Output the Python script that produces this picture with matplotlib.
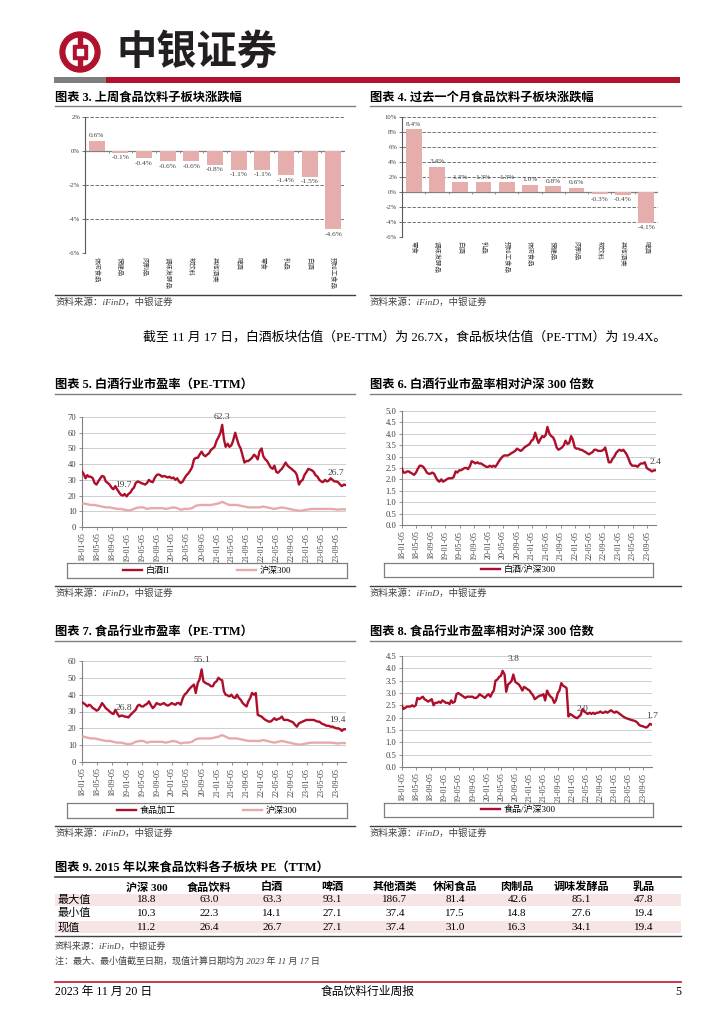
import numpy as np
import pandas as pd
import matplotlib
matplotlib.use('Agg')
import matplotlib.pyplot as plt
from matplotlib.patches import Rectangle, Annulus
from matplotlib.lines import Line2D

plt.rcParams['font.family'] = ['Liberation Serif', 'Noto Sans CJK SC']
plt.rcParams['axes.unicode_minus'] = False

# ---- 图表3 / 图表4 子板块涨跌幅 ----
week_cats = ['休闲食品', '保健品', '肉制品', '调味发酵品', '软饮料', '其他酒类',
             '啤酒', '零食', '乳品', '白酒', '预加工食品']
week_chg = [0.6, -0.1, -0.4, -0.6, -0.6, -0.8, -1.1, -1.1, -1.4, -1.5, -4.6]
month_cats = ['零食', '调味发酵品', '白酒', '乳品', '预加工食品', '休闲食品',
              '保健品', '肉制品', '软饮料', '其他酒类', '啤酒']
month_chg = [8.4, 3.4, 1.3, 1.3, 1.3, 1.0, 0.8, 0.6, -0.3, -0.4, -4.1]

# ---- 估值序列（半月取值，2018-01 至 2023-11）----
dates = pd.date_range('2018-01-01', periods=142, freq='SMS')
baijiu_pe = [35.5, 34, 31, 33, 32, 32, 31, 28, 27, 29, 31, 32.5, 32, 29, 28, 27, 25, 24, 26, 24,
             22, 20.5, 20, 21, 19.5, 21, 22, 24, 25, 28, 29, 28.5, 28, 27.5, 27, 28, 30, 29, 28.5, 31,
             33, 33.5, 33, 32, 32.5, 32, 31.5, 32, 31, 31.5, 30, 31, 29, 28, 29, 31, 33, 34, 36, 38,
             43, 44, 44, 46, 48, 46, 45, 46, 47, 49, 50, 51, 55, 57, 60, 65, 56, 51, 53, 51,
             52, 55, 60, 56, 52, 50, 45, 41, 42, 42, 43, 44, 46, 45, 43, 48, 50, 45, 43, 42,
             40, 38, 37, 39, 35, 34.5, 36, 37, 39, 41, 39, 38, 37, 36, 35, 33, 27, 29, 30, 33,
             35, 37, 36.5, 36, 35, 33, 32, 30, 29, 28.5, 30, 29, 29.5, 31, 30, 29, 29, 28.5, 27, 26, 27, 26.7]
baijiu_rel = [2.5, 2.3, 2.3, 2.35, 2.35, 2.3, 2.25, 2.2, 2.3, 2.45, 2.6, 2.6, 2.55, 2.45, 2.3, 2.25, 2.25, 2.3, 2.25, 2.1,
              1.95, 1.9, 2.0, 1.9, 1.95, 2.0, 2.05, 2.05, 2.05, 2.1, 2.35, 2.3, 2.4, 2.4, 2.45, 2.5, 2.5, 2.45, 2.6, 2.8,
              2.75, 2.7, 2.75, 2.7, 2.7, 2.65, 2.6, 2.55, 2.55, 2.6, 2.55, 2.6, 2.55, 2.65, 2.8, 2.9, 3.0, 3.05, 3.05, 3.05,
              3.1, 3.15, 3.2, 3.25, 3.35, 3.3, 3.25, 3.3, 3.4, 3.45, 3.5, 3.55, 3.7, 3.75, 4.05, 3.8, 3.6, 3.75, 3.9, 3.85,
              3.95, 4.3, 4.0, 3.9, 3.85, 3.7, 3.4, 3.3, 3.35, 3.4, 3.5, 3.7, 3.55, 3.6, 3.9, 3.75, 3.4, 3.35, 3.35, 3.3,
              3.3, 3.25, 3.2, 3.15, 3.1, 3.15, 3.2, 3.3, 3.3, 3.25, 3.25, 3.25, 3.3, 3.4, 3.05, 2.75, 2.75, 2.9, 3.0, 3.15,
              3.25, 3.3, 3.25, 3.3, 3.2, 3.1, 2.9, 2.7, 2.6, 2.6, 2.6, 2.55, 2.65, 2.7, 2.7, 2.75, 2.5, 2.45, 2.4, 2.35, 2.4, 2.4]
food_pe = [35.5, 35, 34, 33, 34, 33.5, 32, 31.5, 30.5, 31, 33, 35, 33.5, 32, 31, 30, 29, 28.5, 31, 29,
           27, 27.5, 27.5, 27, 26.8, 26.5, 28, 29, 30, 31, 33.5, 34, 33, 33, 34, 34.5, 36, 34, 32, 33,
           35, 34.5, 34, 34.5, 35, 34, 33.5, 34, 35, 34.5, 34, 35, 35, 34, 38, 40, 41, 42.5, 44, 45,
           46, 41, 47, 49, 55, 48, 47, 46.5, 46, 45, 45, 47, 48, 50, 49, 48.5, 42, 40, 39.5, 39,
           40, 38.5, 38, 40, 38, 37, 35, 34, 33, 36, 38, 41, 40, 41, 28, 27.5, 27, 26, 25, 24.5,
           24, 24, 25, 26, 25, 25.5, 26, 27, 25, 25, 25, 24.5, 24, 23.5, 22, 21, 23, 23.5, 24, 24.5,
           25, 25, 25, 25, 25, 24.5, 24, 24, 23, 22.5, 22, 21.5, 21.5, 21, 21, 20.5, 20, 20, 19.5, 18.5, 19.5, 19.4]
food_rel = [2.5, 2.35, 2.4, 2.45, 2.45, 2.45, 2.5, 2.45, 2.5, 2.8, 2.75, 2.8, 2.85, 2.75, 2.7, 2.65, 2.7, 2.75, 2.5, 2.6,
            2.6, 2.65, 2.6, 2.7, 2.65, 2.6, 2.6, 2.55, 2.7, 2.6, 2.65, 2.95, 3.0, 2.95, 2.9, 2.85, 2.8, 2.85, 2.85, 2.85,
            2.85, 2.8, 2.8, 2.85, 2.95, 2.9, 2.85, 2.8, 2.9, 2.95, 2.85, 3.0, 3.1, 3.5, 3.55, 3.65, 3.7, 3.9, 3.75, 3.05,
            3.35, 3.4, 3.5, 3.75, 3.45, 3.4, 3.35, 3.25, 3.1, 3.25, 3.2, 3.15, 3.1, 3.0, 2.9, 2.75, 2.8, 2.85, 2.9, 2.9,
            2.95, 2.7, 3.1, 2.95, 2.85, 2.8, 2.6, 2.7, 3.0, 3.1, 3.4, 3.3, 3.25, 3.2, 2.05, 2.15, 2.1, 2.05, 2.0, 1.98,
            2.05, 2.1, 2.35, 2.25, 2.2, 2.15, 2.2, 2.15, 2.2, 2.15, 2.2, 2.2, 2.25, 2.2, 2.2, 2.25, 2.2, 2.25, 2.3, 2.25,
            2.2, 2.25, 2.2, 2.15, 2.1, 2.05, 2.0, 1.97, 1.95, 1.92, 1.9, 1.88, 1.85, 1.8, 1.7, 1.67, 1.65, 1.62, 1.6, 1.65, 1.75, 1.72]
# 沪深300 市盈率（月度）
hs300_dates = dates[1::2]
hs300_pe = [15, 14.5, 14, 14, 13.5, 13, 12.5, 12.5, 12, 11.5,
            11.5, 11, 10.5, 11, 12, 12.5, 12.5, 11.5, 12, 12,
            12, 12, 11.5, 12, 12.5, 12, 11, 11.5, 11.5, 12,
            13.5, 14, 14, 14, 14, 14.5, 15, 16, 15, 14,
            14, 14, 13.5, 13, 12.5, 12.5, 12.5, 12.5, 13, 12.5,
            12, 11.5, 12, 12.5, 12, 11.5, 11, 10.5, 10.3, 10.8,
            11.2, 11.5, 11.5, 11.5, 11.5, 11.5, 11.5, 11.3, 11, 11.3,
            11.2]

# ---- 图表9 表格 ----
table_cols = ['沪深 300', '食品饮料', '白酒', '啤酒', '其他酒类', '休闲食品', '肉制品', '调味发酵品', '乳品']
table_rows = ['最大值', '最小值', '现值']
pe_max = [18.8, 63.0, 63.3, 93.1, 186.7, 81.4, 42.6, 85.1, 47.8]
pe_min = [10.3, 22.3, 14.1, 27.1, 37.4, 17.5, 14.8, 27.6, 19.4]
pe_now = [11.2, 26.4, 26.7, 27.1, 37.4, 31.0, 16.3, 34.1, 19.4]

RED = '#b0122e'
DARK = '#ad0f2a'
PINK = '#e9a9a9'
BAR = '#e6adad'
GREY = '#404040'

W, H = 724, 1024
fig = plt.figure(figsize=(W / 100, H / 100), dpi=100)


def box(x0, y0, x1, y1):
    return [x0 / W, 1 - y1 / H, (x1 - x0) / W, (y1 - y0) / H]


def txt(x, y, s, **kw):
    kw.setdefault('va', 'center')
    fig.text(x / W, 1 - y / H, s, **kw)


def hline(x0, x1, y, color='#7f7f7f', lw=1.0):
    fig.add_artist(Line2D([x0 / W, x1 / W], [1 - y / H] * 2, color=color, lw=lw))


def band(x0, y0, x1, y1, color):
    fig.add_artist(Rectangle((x0 / W, 1 - y1 / H), (x1 - x0) / W, (y1 - y0) / H,
                             facecolor=color, lw=0))


# 页眉
lg = fig.add_axes(box(58, 31, 102, 73))
lg.set_xlim(-1.05, 1.05)
lg.set_ylim(-1.05, 1.05)
lg.set_aspect('equal')
lg.axis('off')
lg.add_patch(Annulus((0, 0), 1.0, 0.24, color=RED))
lg.add_patch(Rectangle((-0.09, 0.3), 0.18, 0.5, color=RED))
lg.add_patch(Rectangle((-0.09, -0.8), 0.18, 0.5, color=RED))
lg.add_patch(Rectangle((-0.34, -0.34), 0.68, 0.68, color=RED))
lg.add_patch(Rectangle((-0.16, -0.16), 0.32, 0.32, color='white'))
txt(116, 52, '中银证券', fontsize=29, family='Noto Sans CJK SC', weight='bold', color='#231f20')
band(54, 77, 106, 83, '#7f7f7f')
band(106, 77, 680, 83, RED)


def title(x, y, s, x1):
    txt(x, y, s, fontsize=8.8, weight='bold', color='black')
    hline(x, x1, y + 9, '#7f7f7f', 1.0)


def source(x, y, x1):
    hline(x, x1, y - 7, '#404040', 1.0)
    txt(x, y, '资料来源：iFinD，中银证券', fontsize=6.8, style='italic', color=GREY)


def bar_panel(b, cats, vals, lo, hi):
    ax = fig.add_axes(box(*b))
    pos = np.arange(len(cats))
    ax.bar(pos, vals, width=0.68, color=BAR, zorder=3)
    ax.set_xlim(-0.5, len(cats) - 0.5)
    ax.set_ylim(lo, hi)
    ticks = np.arange(lo, hi + 1, 2)
    ax.set_yticks(ticks)
    ax.set_yticklabels([f'{t:d}%' for t in ticks], fontsize=4.8, color=GREY)
    for t in ticks:
        if t != 0:
            ax.axhline(t, color='#595959', lw=0.6, ls=(0, (4, 2)), zorder=1)
    ax.axhline(0, color='#808080', lw=0.9, zorder=2)
    ax.vlines(np.arange(len(cats) + 1) - 0.5, -(hi - lo) * 0.015, 0, color='#808080', lw=0.6)
    for s in ['top', 'right', 'bottom']:
        ax.spines[s].set_visible(False)
    ax.spines['left'].set_color('#595959')
    ax.spines['left'].set_linewidth(0.8)
    ax.tick_params(axis='y', length=2, width=0.6, pad=1.5, color='#595959')
    ax.set_xticks(pos)
    ax.set_xticklabels(cats, rotation=270, fontsize=4.6, color=GREY)
    ax.tick_params(axis='x', length=0, pad=3)
    off = (hi - lo) * 0.02
    for p, v in zip(pos, vals):
        ax.text(p, v + off if v >= 0 else v - off, f'{v:.1f}%', ha='center',
                va='bottom' if v >= 0 else 'top', fontsize=5.3, color=GREY)


tick_dates = [pd.Timestamp(y, m, 5) for y in range(2018, 2024) for m in (1, 5, 9)]


def line_panel(b, lines, top, step, fmt):
    ax = fig.add_axes(box(*b))
    handles = []
    for d, v, c in lines:
        h, = ax.plot(d, v, color=c, lw=1.7, solid_joinstyle='round', zorder=3)
        handles.append(h)
    ax.set_xlim(pd.Timestamp('2018-01-03'), pd.Timestamp('2023-11-18'))
    ax.set_ylim(0, top)
    yt = np.arange(0, top + step / 2, step)
    ax.set_yticks(yt)
    ax.set_yticklabels([fmt.format(t) for t in yt], fontsize=6.2, color=GREY)
    ax.grid(axis='y', color='#c8c8c8', lw=0.6)
    ax.set_axisbelow(True)
    ax.set_xticks(tick_dates)
    ax.set_xticklabels([t.strftime('%y-%m-%d') for t in tick_dates], rotation=90, fontsize=5.8, color=GREY)
    for s in ['top', 'right']:
        ax.spines[s].set_visible(False)
    for s in ['left', 'bottom']:
        ax.spines[s].set_color('#808080')
        ax.spines[s].set_linewidth(0.8)
    ax.tick_params(length=2.5, width=0.6, color='#808080', pad=1.5)
    return ax, handles


def legend_panel(b, handles, labels, gap):
    la = fig.add_axes(box(*b))
    la.set_xticks([])
    la.set_yticks([])
    for s in la.spines.values():
        s.set_color('#7f7f7f')
        s.set_linewidth(0.9)
    la.legend(handles, labels, loc='center', ncol=len(labels), frameon=False,
              fontsize=6.5, handlelength=2.1, columnspacing=gap, handletextpad=0.4)


def note(ax, i, d, v, s, dx=0, dy=3):
    ax.annotate(s, (d[i], v[i]), xytext=(dx, dy), textcoords='offset points',
                ha='center', va='bottom', fontsize=6.8, color=GREY)


# 图表3 / 图表4
title(55, 97, '图表 3. 上周食品饮料子板块涨跌幅', 355)
title(370, 97, '图表 4. 过去一个月食品饮料子板块涨跌幅', 681)
bar_panel((85, 117, 345, 253), week_cats, week_chg, -6, 2)
bar_panel((402, 117, 658, 237), month_cats, month_chg, -6, 10)
source(55, 302, 355)
source(370, 302, 681)

txt(143, 337, '截至 11 月 17 日，白酒板块估值（PE-TTM）为 26.7X，食品板块估值（PE-TTM）为 19.4X。',
    fontsize=9.3, color='black')

# 图表5
title(55, 385, '图表 5. 白酒行业市盈率（PE-TTM）', 355)
ax5, h5 = line_panel((82, 417, 346, 527), [(dates, baijiu_pe, DARK), (hs300_dates, hs300_pe, PINK)],
                     70, 10, '{:.0f}')
i = int(np.argmax(baijiu_pe))
note(ax5, i, dates, baijiu_pe, '62.3')
i = int(np.argmin(baijiu_pe[:40]))
note(ax5, i, dates, baijiu_pe, '19.7', dx=-2, dy=5)
note(ax5, len(dates) - 1, dates, baijiu_pe, '26.7', dx=-7, dy=6)
legend_panel((67, 563, 347, 578), h5, ['白酒II', '沪深300'], 7.5)
source(55, 593, 355)

# 图表6
title(370, 385, '图表 6. 白酒行业市盈率相对沪深 300 倍数', 681)
ax6, h6 = line_panel((402, 411, 656, 525), [(dates, baijiu_rel, DARK)], 5, 0.5, '{:.1f}')
note(ax6, len(dates) - 1, dates, baijiu_rel, '2.4', dx=0, dy=3)
legend_panel((384, 563, 653, 577), h6, ['白酒/沪深300'], 2)
source(370, 593, 681)

# 图表7
title(55, 632, '图表 7. 食品行业市盈率（PE-TTM）', 355)
ax7, h7 = line_panel((82, 661, 346, 762), [(dates, food_pe, DARK), (hs300_dates, hs300_pe, PINK)],
                     60, 10, '{:.0f}')
i = int(np.argmax(food_pe))
note(ax7, i, dates, food_pe, '55.1', dy=4)
i = int(np.argmin(food_pe[:40]))
note(ax7, i, dates, food_pe, '26.8', dx=-3, dy=4)
note(ax7, len(dates) - 1, dates, food_pe, '19.4', dx=-6, dy=4)
legend_panel((67, 803, 347, 818), h7, ['食品加工', '沪深300'], 7.5)
source(55, 833, 355)

# 图表8
title(370, 632, '图表 8. 食品行业市盈率相对沪深 300 倍数', 681)
ax8, h8 = line_panel((402, 656, 652, 767), [(dates, food_rel, DARK)], 4.5, 0.5, '{:.1f}')
i = 60 + int(np.argmax(food_rel[60:66]))
note(ax8, i, dates, food_rel, '3.8', dy=8)
i = 90 + int(np.argmin(food_rel[90:110]))
note(ax8, i, dates, food_rel, '2.0', dx=4, dy=4)
note(ax8, len(dates) - 1, dates, food_rel, '1.7', dx=0, dy=3)
legend_panel((384, 803, 653, 817), h8, ['食品/沪深300'], 2)
source(370, 833, 681)

# 图表9 表格
txt(55, 868, '图表 9. 2015 年以来食品饮料各子板块 PE（TTM）', fontsize=8.8, weight='bold')
hline(55, 681, 877, '#404040', 1.2)
col_x = [147, 209, 272, 332, 395, 455, 517, 581, 644]
row_y = [900, 913, 927]
band(55, 894, 681, 906, '#f7e4e5')
band(55, 921, 681, 933, '#f7e4e5')
for cx, name in zip(col_x, table_cols):
    txt(cx, 887, name, fontsize=8, weight='bold', ha='center')
for ry, rname, vals in zip(row_y, table_rows, [pe_max, pe_min, pe_now]):
    txt(58, ry, rname, fontsize=8)
    for cx, v in zip(col_x, vals):
        txt(cx, ry, f'{v:.1f}', fontsize=8, ha='center')
hline(55, 681, 936, '#404040', 1.0)
txt(55, 946, '资料来源：iFinD，中银证券', fontsize=6.5, style='italic', color=GREY)
txt(55, 961, '注：最大、最小值截至日期，现值计算日期均为 2023 年 11 月 17 日', fontsize=6.5,
    style='italic', color=GREY)

# 页脚
hline(55, 681, 982, '#c8283f', 1.3)
txt(55, 992, '2023 年 11 月 20 日', fontsize=8.5)
txt(368, 992, '食品饮料行业周报', fontsize=8.5, ha='center')
txt(681, 992, '5', fontsize=8.5, ha='right')

fig.savefig('out.png', dpi=100)
